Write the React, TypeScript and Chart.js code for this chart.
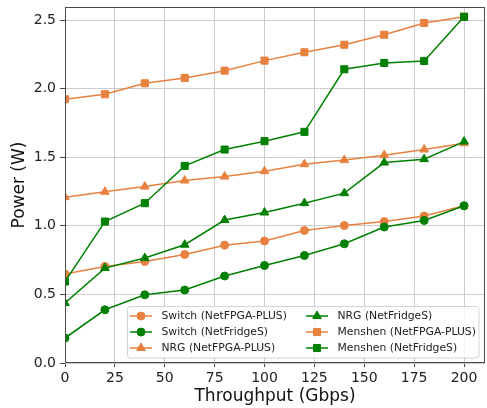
import React, { useEffect, useRef } from "react";
import { Chart, registerables } from "chart.js";

Chart.register(...registerables);

// ---- data ----
const throughput = [0, 20, 40, 60, 80, 100, 120, 140, 160, 180, 200];
const xTicks = [0, 25, 50, 75, 100, 125, 150, 175, 200];
const yTicks = [0, 0.5, 1.0, 1.5, 2.0, 2.5];

const switchNetFPGA = [0.648, 0.704, 0.74, 0.791, 0.859, 0.889, 0.966, 1.002, 1.031, 1.071, 1.146];
const switchNetFridgeS = [0.182, 0.388, 0.497, 0.532, 0.634, 0.711, 0.784, 0.869, 0.991, 1.039, 1.146];
const nrgNetFPGA = [1.209, 1.248, 1.286, 1.33, 1.359, 1.398, 1.449, 1.479, 1.515, 1.556, 1.602];
const nrgNetFridgeS = [0.437, 0.692, 0.765, 0.862, 1.042, 1.097, 1.165, 1.238, 1.461, 1.486, 1.614];
const menshenNetFPGA = [1.923, 1.959, 2.039, 2.078, 2.131, 2.204, 2.265, 2.32, 2.393, 2.479, 2.524];
const menshenNetFridgeS = [0.594, 1.031, 1.165, 1.437, 1.556, 1.617, 1.685, 2.141, 2.187, 2.202, 2.524];

const seriesLabels = [
  "Switch (NetFPGA-PLUS)",
  "Switch (NetFridgeS)",
  "NRG (NetFPGA-PLUS)",
  "NRG (NetFridgeS)",
  "Menshen (NetFPGA-PLUS)",
  "Menshen (NetFridgeS)",
];
const seriesValues = [switchNetFPGA, switchNetFridgeS, nrgNetFPGA, nrgNetFridgeS, menshenNetFPGA, menshenNetFridgeS];

const xTitle = "Throughput (Gbps)";
const yTitle = "Power (W)";

// ---- styles ----
const ORANGE = "#e8803f";
const GREEN = "#008000";
const FONT = "'DejaVu Sans', sans-serif";
const seriesColors = [ORANGE, GREEN, ORANGE, GREEN, ORANGE, GREEN];
const seriesMarkers = ["circle", "circle", "triangle", "triangle", "rect", "rect"];
const markerRadius: Record<string, number> = { circle: 4, triangle: 5, rect: 5 };
const RIGHT_GAP = 2;

function drawMarker(ctx: CanvasRenderingContext2D, style: string, x: number, y: number, r: number, color: string) {
  ctx.save();
  ctx.fillStyle = color;
  ctx.strokeStyle = color;
  ctx.lineWidth = 1;
  ctx.beginPath();
  if (style === "circle") {
    ctx.arc(x, y, r, 0, Math.PI * 2);
  } else if (style === "triangle") {
    for (let k = 0; k < 3; k++) {
      const ang = -Math.PI / 2 + (k * 2 * Math.PI) / 3;
      const px = x + Math.cos(ang) * r;
      const py = y + Math.sin(ang) * r;
      if (k === 0) ctx.moveTo(px, py);
      else ctx.lineTo(px, py);
    }
    ctx.closePath();
  } else {
    const s = Math.SQRT1_2 * r;
    ctx.rect(x - s, y - s, 2 * s, 2 * s);
  }
  ctx.fill();
  ctx.stroke();
  ctx.restore();
}

const decorPlugin = {
  id: "decor",
  afterLayout(chart: any) {
    const a = chart.chartArea;
    const target = chart.width - RIGHT_GAP;
    a.right = target;
    a.width = a.right - a.left;
    const xs = chart.scales.x;
    xs.right = target;
    xs.width = target - xs.left;
    xs.configure();
  },
  afterDatasetsDraw(chart: any) {
    const { ctx, chartArea: a } = chart;
    ctx.save();
    ctx.strokeStyle = "#4a4a4a";
    ctx.lineWidth = 1;
    ctx.strokeRect(Math.round(a.left) + 0.5, Math.round(a.top) + 0.5, Math.round(a.right - a.left) - 1, Math.round(a.bottom - a.top) - 1);
    ctx.restore();
  },
  afterDraw(chart: any) {
    const { ctx, chartArea: a } = chart;
    ctx.save();
    // axis titles
    ctx.fillStyle = "#111";
    ctx.font = `17px ${FONT}`;
    ctx.textAlign = "center";
    ctx.textBaseline = "middle";
    ctx.fillText(xTitle, (a.left + a.right) / 2, 397);
    ctx.save();
    ctx.translate(20, (a.top + a.bottom) / 2);
    ctx.rotate(-Math.PI / 2);
    ctx.fillText(yTitle, 0, 0);
    ctx.restore();

    // legend
    const bx = 127.5, by = 306.5, bw = 351.5, bh = 51.5;
    ctx.beginPath();
    (ctx as any).roundRect(bx, by, bw, bh, 3);
    ctx.fillStyle = "rgba(255,255,255,0.8)";
    ctx.fill();
    ctx.strokeStyle = "#d4d4d4";
    ctx.lineWidth = 1;
    ctx.stroke();

    ctx.font = `10.8px ${FONT}`;
    ctx.textAlign = "left";
    ctx.textBaseline = "middle";
    seriesLabels.forEach((label, i) => {
      const col = i < 3 ? 0 : 1;
      const row = i % 3;
      const x0 = col === 0 ? 130 : 306;
      const y = 316 + row * 16;
      const color = seriesColors[i];
      ctx.strokeStyle = color;
      ctx.lineWidth = 1.5;
      ctx.beginPath();
      ctx.moveTo(x0, y);
      ctx.lineTo(x0 + 22, y);
      ctx.stroke();
      drawMarker(ctx, seriesMarkers[i], x0 + 11, y, markerRadius[seriesMarkers[i]], color);
      ctx.fillStyle = "#222";
      ctx.fillText(label, col === 0 ? 161.5 : 337.5, y + 0.5);
    });
    ctx.restore();
  },
};

const zeroPad = (scale: any) => {
  scale.paddingTop = 0;
  scale.paddingBottom = 0;
  scale.paddingLeft = 0;
  scale.paddingRight = 0;
};

export default function App() {
  const ref = useRef<HTMLCanvasElement | null>(null);

  useEffect(() => {
    if (!ref.current) return;
    const datasets = seriesLabels.map((label, i) => ({
      label,
      data: throughput.map((x, j) => ({ x, y: seriesValues[i][j] })),
      borderColor: seriesColors[i],
      backgroundColor: seriesColors[i],
      pointBackgroundColor: seriesColors[i],
      pointBorderColor: seriesColors[i],
      pointBorderWidth: 1,
      pointStyle: seriesMarkers[i],
      pointRadius: markerRadius[seriesMarkers[i]],
      borderWidth: 1.5,
      tension: 0,
      clip: 0,
      order: seriesLabels.length - i,
    }));

    const chart = new Chart(ref.current, {
      type: "line",
      data: { datasets },
      plugins: [decorPlugin],
      options: {
        animation: false,
        responsive: false,
        devicePixelRatio: 1,
        events: [],
        layout: { padding: { top: 7, right: RIGHT_GAP, left: 0, bottom: 0 } },
        plugins: { legend: { display: false }, tooltip: { enabled: false } },
        scales: {
          x: {
            type: "linear",
            min: 0,
            max: 210.5,
            afterBuildTicks: (scale: any) => {
              scale.ticks = xTicks.map((v) => ({ value: v }));
            },
            afterFit: (scale: any) => {
              scale.height = 45;
              zeroPad(scale);
            },
            ticks: {
              autoSkip: false,
              maxRotation: 0,
              padding: 3,
              color: "#222",
              font: { family: FONT, size: 14 },
              callback: (v: any) => String(v),
            },
            grid: { color: "#cccccc", lineWidth: 1, tickLength: 4, tickColor: "#444", tickWidth: 1 },
            border: { display: false },
          },
          y: {
            type: "linear",
            min: 0,
            max: 2.595,
            afterBuildTicks: (scale: any) => {
              scale.ticks = yTicks.map((v) => ({ value: v }));
            },
            afterFit: (scale: any) => {
              scale.width = 65;
              zeroPad(scale);
            },
            ticks: {
              autoSkip: false,
              padding: 4,
              color: "#222",
              font: { family: FONT, size: 14 },
              callback: (v: any) => Number(v).toFixed(1),
            },
            grid: { color: "#cccccc", lineWidth: 1, tickLength: 5, tickColor: "#444", tickWidth: 1 },
            border: { display: false },
          },
        },
      } as any,
    });
    return () => chart.destroy();
  }, []);

  return (
    <div style={{ position: "fixed", left: 0, top: 0, width: 487, height: 408, background: "#fff" }}>
      <canvas ref={ref} width={487} height={408} style={{ display: "block" }} />
    </div>
  );
}
